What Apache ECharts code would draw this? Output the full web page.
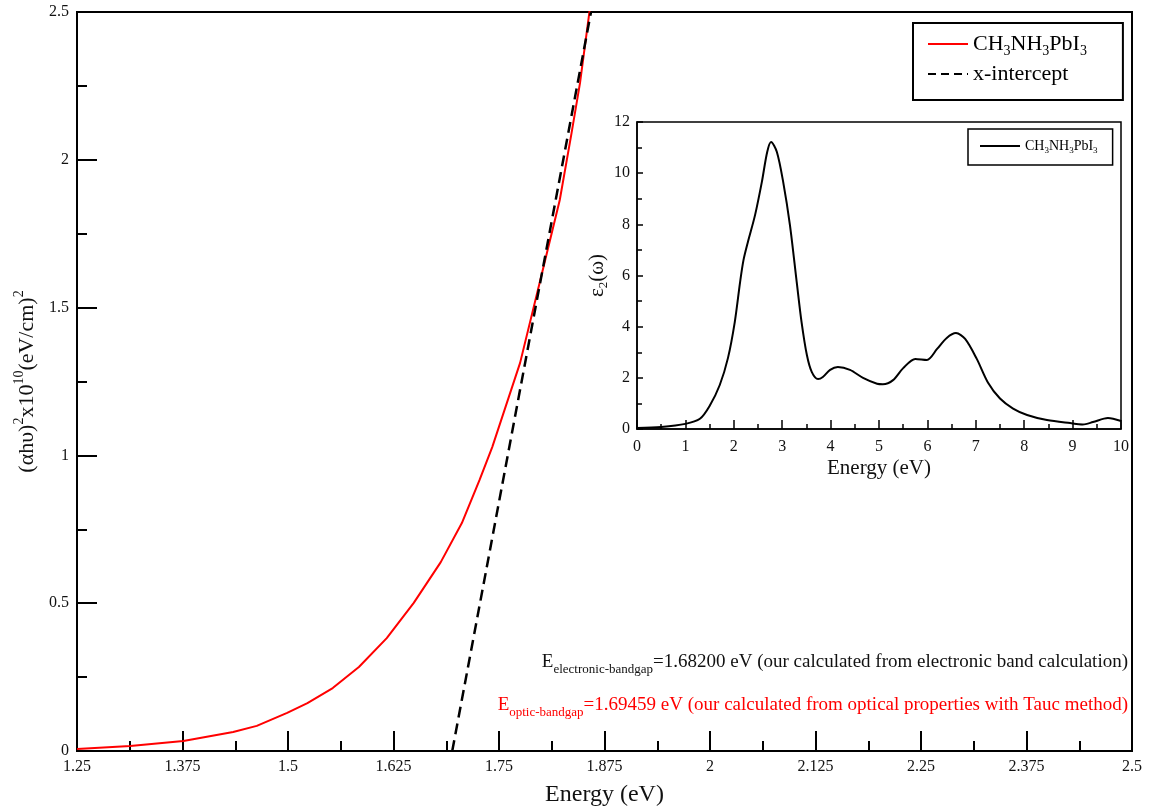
<!DOCTYPE html>
<html><head><meta charset="utf-8">
<script src="https://cdn.jsdelivr.net/npm/echarts@6/dist/echarts.min.js"></script>
<style>html,body{margin:0;padding:0;background:#fff}#c{width:1151px;height:812px}</style>
</head><body><div id="c"></div>
<script>
// ---- Main panel: Tauc plot ----
const taucEnergy = [1.25, 1.313, 1.376, 1.435, 1.463, 1.499, 1.523, 1.553, 1.584, 1.617, 1.649, 1.681, 1.706, 1.727, 1.742, 1.775, 1.801, 1.822, 1.836, 1.846, 1.857, 1.87];
const taucValue  = [0.007, 0.017, 0.034, 0.064, 0.085, 0.129, 0.162, 0.213, 0.284, 0.382, 0.501, 0.639, 0.771, 0.917, 1.028, 1.313, 1.617, 1.864, 2.091, 2.260, 2.497, 2.80];
const interceptEnergy = [1.69459, 1.859];
const interceptValue  = [0, 2.5];
// ---- Inset: imaginary dielectric function ----
const epsEnergy = [0, 0.5, 1.0, 1.3, 1.5, 1.71, 1.88, 2.02, 2.13, 2.2, 2.29, 2.44, 2.58, 2.69, 2.77, 2.89, 3.02, 3.16, 3.30, 3.40, 3.51, 3.61, 3.74, 3.84, 3.99, 4.15, 4.40, 4.67, 4.96, 5.08, 5.29, 5.50, 5.75, 5.99, 6.20, 6.40, 6.59, 6.78, 7.02, 7.25, 7.50, 7.77, 8.06, 8.47, 8.95, 9.21, 9.42, 9.73, 10.0];
const epsValue  = [0.04, 0.08, 0.2, 0.4, 0.9, 1.72, 2.78, 4.18, 5.74, 6.6, 7.3, 8.37, 9.66, 10.83, 11.22, 10.83, 9.66, 7.97, 5.74, 4.18, 2.89, 2.23, 1.95, 2.03, 2.31, 2.42, 2.31, 2.00, 1.77, 1.75, 1.91, 2.38, 2.74, 2.70, 3.13, 3.56, 3.75, 3.52, 2.74, 1.82, 1.19, 0.80, 0.55, 0.35, 0.23, 0.18, 0.27, 0.43, 0.31];
// ---- Texts ----
const mainSeriesName = 'CH3NH3PbI3';
const interceptName = 'x-intercept';
const insetSeriesName = 'eps2 CH3NH3PbI3';
const annotElectronic = ['E', 'electronic-bandgap', '=1.68200 eV (our calculated from electronic band calculation)'];
const annotOptic = ['E', 'optic-bandgap', '=1.69459 eV (our calculated from optical properties with Tauc method)'];

const FONT = '"Liberation Serif", "Times New Roman", serif';
const zip = (a, b) => a.map((v, i) => [v, b[i]]);

const chart = echarts.init(document.getElementById('c'), null, {renderer: 'canvas'});

function axisCommon(tickLen, minorLen, w) {
  return {
    axisLine: {show: true, lineStyle: {color: '#000', width: w}},
    axisTick: {show: true, inside: true, length: tickLen, lineStyle: {color: '#000', width: w}},
    minorTick: {show: true, splitNumber: 2, length: minorLen, lineStyle: {color: '#000', width: w}},
    splitLine: {show: false},
    minorSplitLine: {show: false}
  };
}

const hiddenSymbol = {opacity: 0, color: 'transparent', borderWidth: 0};

const option = {
  animation: false,
  backgroundColor: '#fff',
  grid: [
    {left: 77, right: 19, top: 12, bottom: 61, show: true, borderColor: '#000', borderWidth: 2, backgroundColor: 'transparent'},
    {left: 637, right: 30, top: 122, bottom: 383, show: true, borderColor: '#000', borderWidth: 1.5, backgroundColor: '#fff'}
  ],
  xAxis: [
    Object.assign({
      gridIndex: 0, type: 'value', min: 1.25, max: 2.5, interval: 0.125,
      axisLabel: {color: '#111', fontSize: 16, fontFamily: FONT, margin: 8},
      name: 'Energy (eV)', nameLocation: 'middle', nameGap: 32,
      nameTextStyle: {color: '#111', fontSize: 24, fontFamily: FONT}
    }, axisCommon(20, 10, 2)),
    Object.assign({
      gridIndex: 1, type: 'value', min: 0, max: 10, interval: 1,
      axisLabel: {color: '#111', fontSize: 16, fontFamily: FONT, margin: 10},
      name: 'Energy (eV)', nameLocation: 'middle', nameGap: 29,
      nameTextStyle: {color: '#111', fontSize: 21, fontFamily: FONT}
    }, axisCommon(9, 5, 1.5))
  ],
  yAxis: [
    Object.assign({
      gridIndex: 0, type: 'value', min: 0, max: 2.5, interval: 0.5,
      axisLabel: {color: '#111', fontSize: 16, fontFamily: FONT, margin: 8},
      name: '{m|(αhυ)}{p|2}{m|x10}{p|10}{m|(eV/cm)}{p|2}', nameLocation: 'middle', nameGap: 29,
      nameTextStyle: {color: '#111', fontFamily: FONT, rich: {
        m: {fontSize: 22, fontFamily: FONT, color: '#111', lineHeight: 30},
        p: {fontSize: 14, fontFamily: FONT, color: '#111', lineHeight: 14, verticalAlign: 'top'}
      }}
    }, axisCommon(20, 10, 2)),
    Object.assign({
      gridIndex: 1, type: 'value', min: 0, max: 12, interval: 2,
      axisLabel: {color: '#111', fontSize: 16, fontFamily: FONT, margin: 7},
      name: '{m|ε}{s|2}{m|(ω)}', nameLocation: 'middle', nameGap: 26,
      nameTextStyle: {color: '#111', fontFamily: FONT, rich: {
        m: {fontSize: 21, fontFamily: FONT, color: '#111', lineHeight: 26},
        s: {fontSize: 13, fontFamily: FONT, color: '#111', lineHeight: 13, verticalAlign: 'bottom'}
      }}
    }, axisCommon(6, 5, 1.5))
  ],
  legend: [
    {
      orient: 'vertical', left: 913, top: 23,
      data: [{name: mainSeriesName}, {name: interceptName, lineStyle: {type: [8, 5]}}],
      itemWidth: 40, itemHeight: 14, itemGap: 5,
      padding: [10, 36, 15, 14],
      borderColor: '#000', borderWidth: 2, backgroundColor: '#fff',
      selectedMode: false,
      itemStyle: hiddenSymbol,
      formatter: n => n === mainSeriesName ? '{m|CH}{s|3}{m|NH}{s|3}{m|PbI}{s|3}' : '{m|x-intercept}',
      textStyle: {color: '#000', fontFamily: FONT, rich: {
        m: {fontSize: 22, fontFamily: FONT, color: '#000', lineHeight: 28},
        s: {fontSize: 14, fontFamily: FONT, color: '#000', lineHeight: 14, verticalAlign: 'bottom'}
      }}
    },
    {
      orient: 'vertical', left: 968, top: 129,
      data: [{name: insetSeriesName}],
      itemWidth: 40, itemHeight: 14,
      padding: [10, 15, 10, 11],
      borderColor: '#000', borderWidth: 1.5, backgroundColor: '#fff',
      selectedMode: false,
      itemStyle: hiddenSymbol,
      formatter: () => '{m|CH}{s|3}{m|NH}{s|3}{m|PbI}{s|3}',
      textStyle: {color: '#000', fontFamily: FONT, rich: {
        m: {fontSize: 14, fontFamily: FONT, color: '#000', lineHeight: 18},
        s: {fontSize: 9, fontFamily: FONT, color: '#000', lineHeight: 9, verticalAlign: 'bottom'}
      }}
    }
  ],
  series: [
    {
      name: mainSeriesName, type: 'line', xAxisIndex: 0, yAxisIndex: 0,
      data: zip(taucEnergy, taucValue), symbol: 'none', clip: true,
      lineStyle: {color: '#ff0000', width: 2}, itemStyle: {color: '#ff0000'}
    },
    {
      name: interceptName, type: 'line', xAxisIndex: 0, yAxisIndex: 0,
      data: zip(interceptEnergy, interceptValue), symbol: 'none', clip: true,
      lineStyle: {color: '#000', width: 2.5, type: [11, 6]}, itemStyle: {color: '#000'}
    },
    {
      name: insetSeriesName, type: 'line', xAxisIndex: 1, yAxisIndex: 1,
      data: zip(epsEnergy, epsValue), symbol: 'none', smooth: 0.3, clip: true,
      lineStyle: {color: '#000', width: 2}, itemStyle: {color: '#000'}
    }
  ],
  graphic: [
    {
      type: 'text', x: 1128, y: 662,
      style: {
        text: '{m|' + annotElectronic[0] + '}{s|' + annotElectronic[1] + '}{m|' + annotElectronic[2] + '}',
        align: 'right', verticalAlign: 'middle', fill: '#111', font: '19px ' + FONT,
        rich: {
          m: {fontSize: 19, fontFamily: FONT, fill: '#111', lineHeight: 28},
          s: {fontSize: 13, fontFamily: FONT, fill: '#111', lineHeight: 13, verticalAlign: 'bottom'}
        }
      }
    },
    {
      type: 'text', x: 1128, y: 705,
      style: {
        text: '{m|' + annotOptic[0] + '}{s|' + annotOptic[1] + '}{m|' + annotOptic[2] + '}',
        align: 'right', verticalAlign: 'middle', fill: '#ff0000', font: '19px ' + FONT,
        rich: {
          m: {fontSize: 19, fontFamily: FONT, fill: '#ff0000', lineHeight: 28},
          s: {fontSize: 13, fontFamily: FONT, fill: '#ff0000', lineHeight: 13, verticalAlign: 'bottom'}
        }
      }
    }
  ]
};
chart.setOption(option);
</script>
</body></html>
